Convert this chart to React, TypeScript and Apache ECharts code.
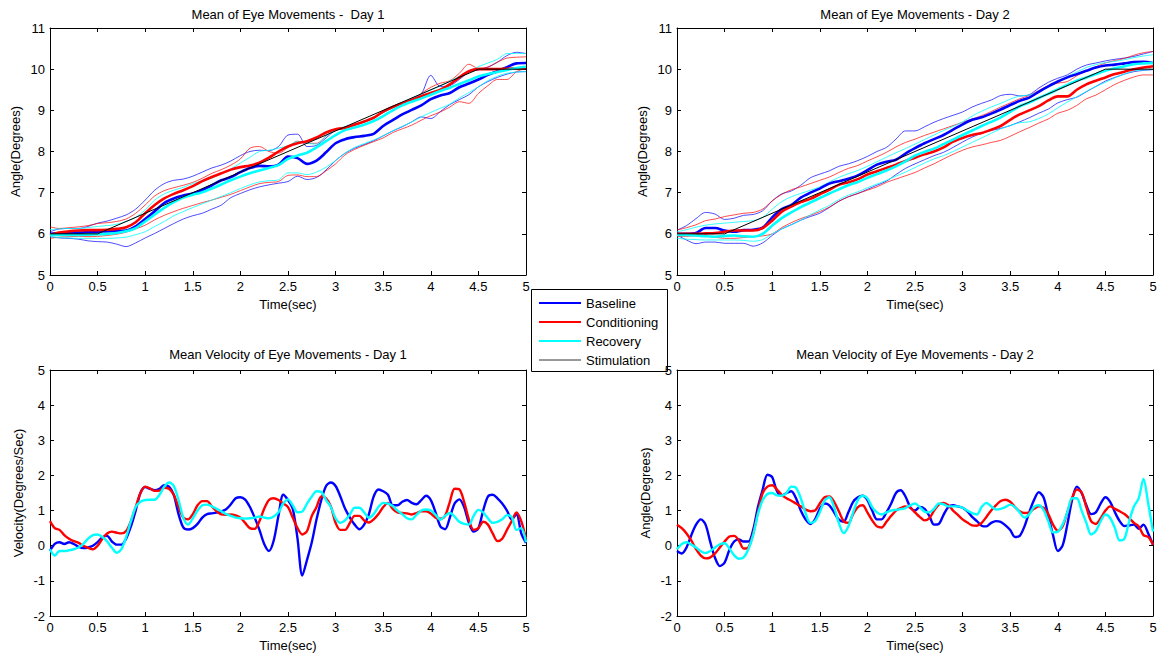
import React, { useEffect, useRef } from "react";
import * as echarts from "echarts";

// ---------- sampling grids (seconds) ----------
const TIME_ANGLE = Array.from({ length: 51 }, (_, i) => i / 10);
const TIME_VEL = Array.from({ length: 101 }, (_, i) => i / 20);

// ---------- axis ranges ----------
const TIME_RANGE = [0, 5];
const TIME_STEP = 0.5;
const ANGLE_RANGE = [5, 11];
const VEL_RANGE = [-2, 5];

// ---------- stimulation (both days) ----------
const STIM_TIME = [0, 0.5, 4.5, 5];
const STIM_ANGLE = [6, 6, 10, 10];

// ---------- Day 1 angle ----------
const D1_BASE = [6.0,6.02,6.03,6.03,6.04,6.05,6.06,6.07,6.08,6.18,6.36,6.55,6.75,6.86,6.93,6.98,7.06,7.18,7.3,7.38,7.5,7.6,7.65,7.64,7.68,7.88,7.84,7.7,7.78,7.98,8.2,8.3,8.35,8.38,8.43,8.62,8.76,8.9,9.01,9.12,9.27,9.36,9.42,9.56,9.65,9.75,9.86,9.95,10.05,10.14,10.15];
const D1_BASE_HI = [6.05,6.12,6.13,6.13,6.18,6.26,6.31,6.38,6.46,6.6,6.82,7.06,7.22,7.3,7.33,7.4,7.5,7.6,7.67,7.77,7.9,8.0,8.03,8.02,8.12,8.4,8.42,8.12,8.15,8.33,8.52,8.58,8.66,8.72,8.82,8.95,9.07,9.17,9.29,9.4,9.85,9.58,9.6,9.75,9.93,9.98,10.05,10.17,10.33,10.41,10.38];
const D1_BASE_LO = [5.93,5.9,5.89,5.87,5.83,5.81,5.8,5.75,5.69,5.78,5.9,6.01,6.13,6.25,6.36,6.44,6.5,6.6,6.7,6.88,6.98,7.07,7.14,7.19,7.23,7.27,7.4,7.32,7.37,7.55,7.78,7.96,8.08,8.17,8.26,8.38,8.5,8.6,8.72,8.84,8.8,8.97,9.14,9.26,9.38,9.57,9.7,9.8,9.88,9.93,9.94];
const D1_COND = [5.97,6.03,6.06,6.08,6.09,6.09,6.1,6.12,6.16,6.28,6.5,6.7,6.86,6.97,7.06,7.16,7.28,7.38,7.47,7.56,7.62,7.66,7.73,7.85,8.0,8.12,8.2,8.25,8.34,8.46,8.54,8.57,8.65,8.73,8.82,8.97,9.08,9.17,9.25,9.34,9.42,9.5,9.63,9.8,9.95,10.0,10.0,10.0,10.01,10.02,10.02];
const D1_COND_HI = [6.17,6.13,6.15,6.17,6.2,6.25,6.27,6.3,6.36,6.5,6.7,6.92,7.05,7.12,7.18,7.25,7.35,7.47,7.56,7.67,7.82,8.08,8.12,8.0,7.96,8.1,8.25,8.2,8.2,8.38,8.54,8.6,8.66,8.72,8.82,8.95,9.07,9.16,9.25,9.41,9.56,9.66,9.72,9.9,10.12,10.02,10.05,10.17,10.27,10.29,10.3];
const D1_COND_LO = [5.89,5.92,5.93,5.94,5.93,5.94,5.96,5.99,6.04,6.12,6.21,6.34,6.45,6.54,6.62,6.69,6.76,6.82,6.89,6.96,7.05,7.14,7.22,7.25,7.27,7.42,7.43,7.39,7.39,7.53,7.7,7.92,8.05,8.15,8.24,8.33,8.46,8.55,8.64,8.76,8.87,8.96,9.08,9.21,9.17,9.41,9.6,9.75,9.75,9.94,10.02];
const D1_REC = [5.97,5.97,5.97,5.97,5.98,5.99,6.0,6.02,6.06,6.14,6.3,6.47,6.63,6.77,6.88,6.95,7.01,7.1,7.2,7.3,7.39,7.47,7.54,7.6,7.67,7.82,7.9,7.97,8.1,8.25,8.4,8.52,8.58,8.65,8.74,8.86,9.0,9.12,9.21,9.29,9.38,9.47,9.55,9.64,9.73,9.82,9.88,9.93,9.98,10.03,10.06];
const D1_REC_HI = [6.1,6.12,6.13,6.13,6.15,6.18,6.2,6.23,6.3,6.4,6.58,6.82,6.97,7.06,7.13,7.22,7.29,7.35,7.47,7.58,7.72,7.86,8.0,8.03,8.08,8.14,8.24,8.2,8.18,8.37,8.52,8.6,8.66,8.74,8.84,8.94,9.06,9.16,9.29,9.39,9.49,9.59,9.71,9.83,9.95,10.06,10.15,10.24,10.38,10.38,10.38];
const D1_REC_LO = [5.93,5.91,5.9,5.89,5.89,5.89,5.89,5.9,5.92,5.98,6.05,6.18,6.3,6.44,6.54,6.64,6.73,6.82,6.91,7.0,7.1,7.19,7.26,7.29,7.31,7.48,7.48,7.44,7.5,7.62,7.78,7.96,8.1,8.19,8.28,8.38,8.5,8.61,8.72,8.84,8.95,9.05,9.15,9.3,9.43,9.57,9.72,9.83,9.9,9.93,9.94];

// ---------- Day 2 angle ----------
const D2_BASE = [6.0,6.0,6.02,6.14,6.14,6.08,6.05,6.09,6.1,6.15,6.4,6.6,6.7,6.88,7.0,7.1,7.22,7.28,7.34,7.42,7.55,7.68,7.75,7.8,7.95,8.08,8.2,8.3,8.4,8.53,8.66,8.77,8.83,8.92,9.02,9.13,9.23,9.31,9.45,9.58,9.7,9.8,9.88,9.96,10.04,10.09,10.11,10.14,10.17,10.18,10.15];
const D2_BASE_HI = [6.09,6.2,6.37,6.52,6.48,6.35,6.38,6.45,6.47,6.56,6.8,6.97,7.04,7.18,7.36,7.45,7.53,7.64,7.7,7.78,7.88,8.0,8.1,8.3,8.5,8.5,8.6,8.71,8.8,8.88,8.96,9.08,9.17,9.25,9.36,9.39,9.35,9.38,9.54,9.68,9.78,9.86,10.0,10.1,10.15,10.2,10.24,10.27,10.31,10.37,10.43];
const D2_BASE_LO = [5.97,5.85,5.76,5.8,5.8,5.77,5.77,5.77,5.7,5.78,5.96,6.12,6.22,6.33,6.42,6.5,6.64,6.79,6.9,6.98,7.08,7.18,7.28,7.44,7.59,7.7,7.8,7.9,7.98,8.1,8.23,8.35,8.44,8.51,8.56,8.63,8.72,8.82,8.93,9.03,9.18,9.26,9.32,9.45,9.58,9.71,9.8,9.88,9.94,9.97,9.99];
const D2_COND = [6.0,6.0,6.0,6.01,6.02,6.05,6.08,6.08,6.08,6.14,6.32,6.54,6.66,6.77,6.85,6.96,7.07,7.19,7.25,7.33,7.44,7.52,7.6,7.68,7.77,7.85,7.93,8.0,8.1,8.24,8.33,8.4,8.45,8.53,8.62,8.77,8.9,9.0,9.1,9.24,9.34,9.34,9.5,9.63,9.72,9.8,9.88,9.94,10.0,10.04,10.07];
const D2_COND_HI = [6.09,6.15,6.22,6.32,6.36,6.42,6.46,6.5,6.52,6.6,6.8,6.96,7.07,7.14,7.22,7.3,7.38,7.49,7.59,7.66,7.77,7.87,7.98,8.11,8.22,8.3,8.39,8.47,8.55,8.63,8.71,8.79,8.87,8.97,9.08,9.18,9.28,9.36,9.48,9.6,9.66,9.7,9.84,9.96,10.06,10.15,10.21,10.26,10.34,10.4,10.43];
const D2_COND_LO = [5.93,5.94,5.95,5.94,5.92,5.89,5.89,5.91,5.93,5.95,6.0,6.15,6.27,6.37,6.45,6.54,6.65,6.79,6.9,6.98,7.06,7.14,7.25,7.33,7.41,7.49,7.6,7.7,7.82,7.93,8.03,8.11,8.16,8.22,8.27,8.37,8.48,8.58,8.69,8.79,8.93,9.0,9.12,9.28,9.37,9.5,9.63,9.73,9.81,9.86,9.86];
const D2_REC = [5.97,5.97,5.96,5.94,5.93,5.95,5.96,5.94,5.93,6.0,6.2,6.38,6.52,6.65,6.76,6.87,6.98,7.08,7.18,7.26,7.36,7.45,7.54,7.64,7.76,7.9,7.99,8.07,8.18,8.29,8.4,8.51,8.62,8.72,8.83,8.96,9.1,9.19,9.3,9.4,9.51,9.62,9.72,9.8,9.88,9.96,10.02,10.07,10.12,10.14,10.15];
const D2_REC_HI = [6.05,6.1,6.16,6.21,6.24,6.26,6.28,6.3,6.32,6.4,6.6,6.78,6.9,6.98,7.06,7.14,7.26,7.37,7.46,7.54,7.64,7.75,7.86,7.97,8.07,8.18,8.29,8.4,8.51,8.61,8.72,8.86,8.98,9.08,9.17,9.27,9.35,9.37,9.45,9.56,9.7,9.82,9.93,10.04,10.11,10.16,10.19,10.23,10.28,10.32,10.35];
const D2_REC_LO = [5.89,5.87,5.86,5.85,5.85,5.85,5.85,5.84,5.82,5.86,6.0,6.12,6.22,6.33,6.46,6.58,6.69,6.83,6.94,7.02,7.12,7.21,7.3,7.4,7.5,7.61,7.72,7.82,7.9,8.0,8.11,8.22,8.33,8.44,8.55,8.63,8.7,8.72,8.8,8.91,9.06,9.2,9.33,9.46,9.58,9.68,9.79,9.88,9.96,9.98,9.99];

// ---------- Day 1 velocity ----------
const V1_BASE = [-0.15,0.05,0.1,0.05,0.1,0.05,-0.03,-0.07,-0.05,0.0,
  0.1,0.24,0.28,0.12,0.03,0.03,0.2,0.55,1.0,1.5,
  1.67,1.62,1.58,1.62,1.72,1.68,1.45,0.9,0.52,0.46,
  0.5,0.62,0.8,0.9,0.92,0.94,0.98,1.04,1.18,1.35,
  1.38,1.31,1.1,0.8,0.45,0.05,-0.15,0.15,0.85,1.45,
  1.3,1.05,0.2,-0.85,-0.4,0.1,0.75,1.3,1.7,1.8,
  1.7,1.4,1.05,0.8,0.6,0.47,0.6,0.9,1.4,1.6,
  1.55,1.45,1.15,1.15,1.25,1.3,1.22,1.18,1.3,1.42,
  1.3,0.95,0.55,0.47,0.8,1.2,1.32,1.1,0.65,0.4,
  0.5,1.0,1.4,1.45,1.35,1.2,1.0,0.75,0.9,0.35,
  0.08];
const V1_COND = [0.7,0.5,0.45,0.3,0.2,0.13,0.08,0.0,-0.06,-0.1,
  0.0,0.2,0.35,0.4,0.37,0.35,0.42,0.7,1.1,1.5,
  1.68,1.63,1.56,1.57,1.65,1.62,1.45,1.1,0.8,0.75,
  0.9,1.15,1.27,1.27,1.12,0.98,0.89,0.88,0.89,0.86,
  0.8,0.65,0.5,0.48,0.7,1.05,1.3,1.35,1.3,1.2,
  1.1,0.8,0.5,0.32,0.42,0.85,1.1,1.4,1.35,1.12,
  0.65,0.45,0.45,0.65,0.85,0.85,0.72,0.66,0.75,0.9,
  1.1,1.22,1.05,0.95,0.93,0.92,0.89,0.93,0.98,0.98,
  0.92,0.8,0.77,0.85,1.25,1.62,1.6,1.25,0.75,0.45,
  0.5,0.68,0.6,0.35,0.13,0.2,0.45,0.7,0.95,0.7,
  0.2];
const V1_REC = [-0.1,-0.28,-0.15,-0.15,-0.13,-0.1,-0.05,0.05,0.2,0.3,
  0.32,0.25,0.12,-0.06,-0.2,-0.1,0.25,0.7,1.1,1.25,
  1.3,1.31,1.31,1.45,1.68,1.8,1.7,1.3,0.8,0.6,
  0.78,1.0,1.15,1.17,1.12,1.05,0.98,0.9,0.85,0.8,
  0.78,0.77,0.78,0.8,0.83,0.8,0.78,0.83,0.95,1.2,
  1.32,1.15,0.95,0.97,1.2,1.4,1.55,1.53,1.3,1.1,
  0.78,0.65,0.72,0.89,1.08,1.08,0.95,0.8,0.9,1.1,
  1.22,1.2,1.13,1.0,0.9,0.78,0.75,0.88,1.0,1.03,
  1.0,0.88,0.74,0.85,0.93,0.83,0.68,0.62,0.6,0.85,
  1.02,0.95,0.78,0.65,0.68,0.75,0.87,0.82,0.45,0.5,
  0.1];

// ---------- Day 2 velocity ----------
const V2_BASE = [-0.15,-0.22,-0.05,0.3,0.6,0.75,0.6,0.1,-0.35,-0.58,
  -0.48,-0.12,0.12,0.18,0.12,0.12,0.45,1.1,1.6,2.02,
  1.95,1.55,1.42,1.5,1.55,1.35,1.0,0.75,0.62,0.75,
  1.05,1.2,1.15,0.95,0.74,0.68,0.95,1.25,1.38,1.42,
  1.3,1.0,0.75,0.75,0.95,1.2,1.5,1.58,1.4,1.1,
  1.0,1.1,1.05,0.85,0.6,0.62,0.88,1.1,1.15,1.12,
  1.08,0.98,0.82,0.7,0.57,0.55,0.65,0.7,0.68,0.58,
  0.45,0.25,0.28,0.55,0.95,1.3,1.52,1.38,0.85,0.3,
  -0.15,0.0,0.6,1.3,1.68,1.5,1.15,0.9,0.95,1.2,
  1.38,1.25,0.95,0.7,0.56,0.58,0.6,0.48,0.6,0.35,
  0.03];
const V2_COND = [0.6,0.5,0.35,0.15,-0.1,-0.28,-0.36,-0.33,-0.22,-0.05,
  0.12,0.26,0.28,0.15,-0.08,-0.05,0.35,0.95,1.5,1.68,
  1.72,1.6,1.45,1.35,1.28,1.2,1.12,1.03,0.98,1.0,
  1.2,1.38,1.4,1.25,0.98,0.7,0.65,0.9,1.1,1.15,
  0.95,0.72,0.55,0.52,0.68,0.85,1.0,1.07,1.12,1.08,
  0.95,0.82,0.72,0.78,1.0,1.17,1.22,1.15,1.0,0.88,
  0.75,0.66,0.58,0.57,0.65,0.82,1.0,1.15,1.27,1.31,
  1.25,1.1,0.98,0.93,0.95,1.05,1.12,1.08,0.9,0.6,
  0.43,0.55,0.95,1.36,1.6,1.52,1.1,0.7,0.62,0.78,
  1.0,1.12,1.05,0.98,0.9,0.78,0.65,0.55,0.3,0.25,
  0.03];
const V2_REC = [-0.1,0.05,0.1,0.03,-0.05,-0.16,-0.21,-0.15,-0.05,0.04,
  0.07,-0.08,-0.27,-0.37,-0.33,-0.1,0.3,0.9,1.3,1.47,
  1.5,1.43,1.42,1.5,1.68,1.65,1.35,0.93,0.65,0.7,
  0.95,1.28,1.38,1.1,0.65,0.36,0.55,0.95,1.3,1.42,
  1.35,1.1,0.95,0.89,0.95,1.0,1.02,1.04,1.07,1.15,
  1.2,1.1,0.97,0.95,1.05,1.2,1.18,1.12,1.12,1.12,
  1.08,1.0,0.93,0.89,1.1,1.22,1.12,1.03,1.05,1.1,
  1.17,1.1,0.95,0.8,0.9,1.1,1.15,1.02,0.7,0.38,
  0.4,0.6,0.95,1.35,1.35,1.0,0.65,0.32,0.42,0.7,
  0.89,0.79,0.5,0.15,0.2,0.7,1.12,1.35,1.9,1.2,
  0.4];

const LEGEND_NAMES = ["Baseline", "Conditioning", "Recovery", "Stimulation"];
const TITLES = [
  "Mean of Eye Movements -  Day 1",
  "Mean of Eye Movements - Day 2",
  "Mean Velocity of Eye Movements - Day 1",
  "Mean Velocity of Eye Movements - Day 2",
];
const Y_NAMES = ["Angle(Degrees)", "Angle(Degrees)", "Velocity(Degrees/Sec)", "Angle(Degrees)"];

const BLUE = "#0000ff";
const RED = "#ff0000";
const CYAN = "#00ffff";
const BLACK = "#000000";
const FONT = "'Liberation Sans', Arial, Helvetica, sans-serif";

const GRIDS = [
  { left: 50, top: 28, width: 476, height: 247 },
  { left: 677, top: 28, width: 476, height: 247 },
  { left: 50, top: 370, width: 476, height: 246 },
  { left: 677, top: 370, width: 476, height: 246 },
];

function zip(xs: number[], ys: number[]) {
  return xs.map((x, i) => [x, ys[i]]);
}

function lineSeries(name: string, gi: number, xs: number[], ys: number[], color: string, width: number, opacity = 1, z = 2, smooth: any = 0.3) {
  return {
    type: "line",
    name,
    xAxisIndex: gi * 2,
    yAxisIndex: gi * 2,
    data: zip(xs, ys),
    showSymbol: false,
    symbol: "none",
    smooth,
    lineStyle: { color, width, opacity },
    itemStyle: { color },
    z,
    silent: true,
  };
}

function buildOption() {
  const axisLine = { show: true, onZero: false, lineStyle: { color: BLACK, width: 1 } };
  const tick = { show: true, inside: true, length: 4, lineStyle: { color: BLACK, width: 1 } };
  const labelStyle = { color: BLACK, fontSize: 13, fontFamily: FONT };
  const xAxis: any[] = [];
  const yAxis: any[] = [];
  GRIDS.forEach((_, gi) => {
    const yr = gi < 2 ? ANGLE_RANGE : VEL_RANGE;
    xAxis.push({
      type: "value", gridIndex: gi, min: TIME_RANGE[0], max: TIME_RANGE[1], interval: TIME_STEP,
      position: "bottom", name: "Time(sec)", nameLocation: "middle", nameGap: 23,
      nameTextStyle: labelStyle, axisLine, axisTick: tick,
      axisLabel: { ...labelStyle, margin: 5 }, splitLine: { show: false },
    });
    xAxis.push({
      type: "value", gridIndex: gi, min: TIME_RANGE[0], max: TIME_RANGE[1], interval: TIME_STEP,
      position: "top", axisLine, axisTick: tick, axisLabel: { show: false }, splitLine: { show: false },
    });
    yAxis.push({
      type: "value", gridIndex: gi, min: yr[0], max: yr[1], interval: 1,
      position: "left", name: Y_NAMES[gi], nameLocation: "middle", nameGap: gi < 2 ? 28 : 25,
      nameTextStyle: labelStyle, axisLine, axisTick: tick,
      axisLabel: { ...labelStyle, margin: 5 }, splitLine: { show: false },
    });
    yAxis.push({
      type: "value", gridIndex: gi, min: yr[0], max: yr[1], interval: 1,
      position: "right", axisLine, axisTick: tick, axisLabel: { show: false }, splitLine: { show: false },
    });
  });

  const series: any[] = [];
  const angleDays = [
    { base: D1_BASE, bhi: D1_BASE_HI, blo: D1_BASE_LO, cond: D1_COND, chi: D1_COND_HI, clo: D1_COND_LO, rec: D1_REC, rhi: D1_REC_HI, rlo: D1_REC_LO },
    { base: D2_BASE, bhi: D2_BASE_HI, blo: D2_BASE_LO, cond: D2_COND, chi: D2_COND_HI, clo: D2_COND_LO, rec: D2_REC, rhi: D2_REC_HI, rlo: D2_REC_LO },
  ];
  angleDays.forEach((d, gi) => {
    series.push(lineSeries("Baseline", gi, TIME_ANGLE, d.bhi, BLUE, 1, 0.7, 1));
    series.push(lineSeries("Baseline", gi, TIME_ANGLE, d.blo, BLUE, 1, 0.7, 1));
    series.push(lineSeries("Conditioning", gi, TIME_ANGLE, d.chi, RED, 1, 0.7, 1));
    series.push(lineSeries("Conditioning", gi, TIME_ANGLE, d.clo, RED, 1, 0.7, 1));
    series.push(lineSeries("Recovery", gi, TIME_ANGLE, d.rhi, CYAN, 1, 0.8, 1));
    series.push(lineSeries("Recovery", gi, TIME_ANGLE, d.rlo, CYAN, 1, 0.8, 1));
    series.push(lineSeries("Baseline", gi, TIME_ANGLE, d.base, BLUE, 2.6, 1, 2));
    series.push(lineSeries("Conditioning", gi, TIME_ANGLE, d.cond, RED, 2.6, 1, 2));
    series.push(lineSeries("Recovery", gi, TIME_ANGLE, d.rec, CYAN, 2.6, 1, 2));
    series.push(lineSeries("Stimulation", gi, STIM_TIME, STIM_ANGLE, BLACK, 1, 1, 3, false));
  });
  const velDays = [
    { base: V1_BASE, cond: V1_COND, rec: V1_REC },
    { base: V2_BASE, cond: V2_COND, rec: V2_REC },
  ];
  velDays.forEach((d, k) => {
    const gi = k + 2;
    series.push(lineSeries("Baseline", gi, TIME_VEL, d.base, BLUE, 2.4, 1, 2));
    series.push(lineSeries("Conditioning", gi, TIME_VEL, d.cond, RED, 2.4, 1, 2));
    series.push(lineSeries("Recovery", gi, TIME_VEL, d.rec, CYAN, 2.4, 1, 2));
  });

  const titleCenters = [
    [288, 14], [915, 14], [288, 354], [915, 354],
  ];
  const graphic: any[] = TITLES.map((t, i) => ({
    type: "text",
    x: titleCenters[i][0],
    y: titleCenters[i][1],
    silent: true,
    style: { text: t, fill: BLACK, fontSize: 13, fontFamily: FONT, textAlign: "center", textVerticalAlign: "middle" },
  }));

  // legend box
  const legendColors = [BLUE, RED, CYAN, "#333333"];
  const legendWidths = [2, 2, 2, 1];
  const legendChildren: any[] = [
    { type: "rect", shape: { x: 531.5, y: 289.5, width: 136, height: 82 }, style: { fill: "#ffffff", stroke: BLACK, lineWidth: 1 } },
  ];
  LEGEND_NAMES.forEach((n, i) => {
    const y = 303 + i * 19;
    legendChildren.push({ type: "line", shape: { x1: 539, y1: y, x2: 581, y2: y }, style: { stroke: legendColors[i], lineWidth: legendWidths[i] } });
    legendChildren.push({ type: "text", x: 586, y, style: { text: n, fill: BLACK, fontSize: 13, fontFamily: FONT, textAlign: "left", textVerticalAlign: "middle" } });
  });
  graphic.push({ type: "group", z: 100, silent: true, children: legendChildren });

  return {
    animation: false,
    backgroundColor: "#ffffff",
    textStyle: { fontFamily: FONT },
    grid: GRIDS.map((g) => ({ ...g, show: false })),
    xAxis,
    yAxis,
    series,
    graphic,
  };
}

export default function App() {
  const ref = useRef<HTMLDivElement>(null);
  useEffect(() => {
    if (!ref.current) return;
    const chart = echarts.init(ref.current, undefined, { renderer: "svg" });
    chart.setOption(buildOption() as any);
    return () => chart.dispose();
  }, []);
  return (
    <div
      ref={ref}
      style={{ position: "absolute", left: 0, top: 0, width: 1164, height: 658, background: "#fff" }}
    />
  );
}
